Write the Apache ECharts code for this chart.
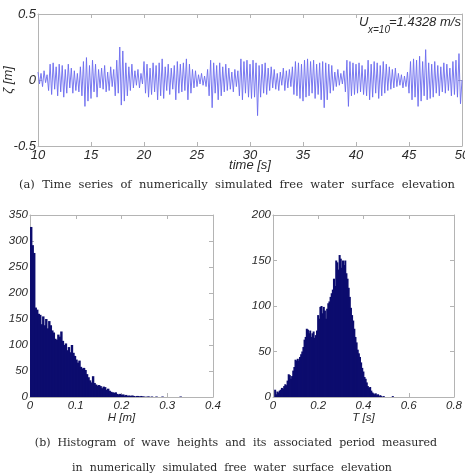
<!DOCTYPE html>
<html>
<head>
<meta charset="utf-8">
<script src="https://cdn.jsdelivr.net/npm/echarts@6/dist/echarts.min.js"></script>
<style>html,body{margin:0;padding:0;background:#fff;}#c{width:465px;height:474px;}</style>
</head>
<body>
<div id="c"></div>
<script>
// ---- Time series of free surface elevation (7 samples per second) ----
const TIME_START = 10;
const TIME_STEP = 1 / 7;
const ETA = [
  0.06,-0.03,0.05,-0.05,0.07,-0.02,0.04,
  -0.08,0.12,-0.11,0.13,-0.07,0.10,-0.12,
  0.12,-0.09,0.11,-0.13,0.08,-0.10,0.12,
  -0.06,0.09,-0.10,0.07,-0.08,0.05,-0.09,
  0.10,-0.12,0.14,-0.20,0.17,-0.16,0.11,
  -0.14,0.15,-0.09,0.12,-0.13,0.08,-0.06,
  0.09,-0.07,0.11,-0.09,0.06,-0.08,0.10,
  -0.05,0.08,-0.12,0.15,-0.10,0.25,-0.19,
  0.22,-0.16,0.13,-0.12,0.10,-0.08,0.12,
  -0.06,0.07,-0.04,0.08,-0.06,0.05,-0.03,
  0.14,-0.10,0.12,-0.13,0.09,-0.11,0.13,
  -0.09,0.11,-0.15,0.13,-0.12,0.16,-0.14,
  0.10,-0.08,0.12,-0.11,0.09,-0.07,0.11,
  -0.15,0.14,-0.10,0.12,-0.09,0.13,-0.08,
  0.16,-0.15,0.12,-0.10,0.08,-0.06,0.07,
  -0.05,0.04,-0.03,0.05,-0.04,0.03,-0.05,
  0.08,-0.12,0.15,-0.21,0.13,-0.10,0.11,
  -0.15,0.13,-0.12,0.10,-0.09,0.12,-0.08,
  0.09,-0.07,0.06,-0.09,0.08,-0.05,0.07,
  -0.12,0.16,-0.15,0.14,-0.10,0.15,-0.13,
  0.12,-0.14,0.15,-0.13,0.13,-0.27,0.11,
  -0.13,0.12,-0.10,0.13,-0.11,0.09,-0.08,
  0.10,-0.06,0.08,-0.07,0.05,-0.08,0.06,
  -0.04,0.09,-0.08,0.07,-0.06,0.08,-0.05,
  0.10,-0.11,0.14,-0.12,0.13,-0.14,0.12,
  -0.16,0.15,-0.13,0.16,-0.12,0.14,-0.10,
  0.15,-0.14,0.12,-0.11,0.13,-0.15,0.14,
  -0.21,0.13,-0.15,0.12,-0.10,0.11,-0.08,
  0.06,-0.05,0.08,-0.04,0.05,-0.03,0.07,
  -0.09,0.15,-0.20,0.14,-0.12,0.13,-0.11,
  0.12,-0.10,0.13,-0.09,0.11,-0.11,0.08,
  -0.12,0.15,-0.15,0.12,-0.13,0.14,-0.10,
  0.13,-0.14,0.11,-0.12,0.14,-0.10,0.12,
  -0.08,0.10,-0.07,0.08,-0.06,0.09,-0.05,
  0.05,-0.04,0.04,-0.06,0.03,-0.05,0.06,
  -0.10,0.14,-0.15,0.16,-0.13,0.15,-0.20,
  0.18,-0.16,0.14,-0.12,0.23,-0.15,0.13,
  -0.14,0.12,-0.13,0.14,-0.10,0.11,-0.12,
  0.10,-0.09,0.13,-0.10,0.12,-0.08,0.09,
  -0.12,0.14,-0.11,0.15,-0.13,0.20,-0.18,
  0.00
];

// ---- Histogram of wave heights H [m] ----
const H_BIN_START = 0;
const H_BIN_WIDTH = 0.0033;
const H_COUNTS = [
  327,292,277,172,168,160,158,140,155,138,
  150,132,146,138,128,124,112,110,120,116,
  126,108,100,103,90,96,86,100,85,79,
  72,66,70,58,55,56,52,44,38,32,
  28,40,27,24,22,23,21,17,20,19,
  14,16,12,10,9,8,9,6,5,6,
  4,5,3,4,2,3,2,3,2,1,
  2,2,1,2,1,1,0,1,1,0,
  1,0,0,1,0,0,0,1,0,0,
  0,0,0,0,0,0,0,0,0,1
];

// ---- Histogram of wave periods T [s] ----
const T_BIN_START = 0.005;
const T_BIN_WIDTH = 0.005;
const T_COUNTS = [
  8,3,6,5,7,8,10,9,12,14,
  13,18,25,24,20,23,29,33,41,40,
  42,40,44,47,50,55,63,66,75,74,
  70,73,66,70,72,65,68,73,90,86,
  99,100,92,99,95,86,97,103,105,110,
  114,118,130,122,150,148,140,156,152,142,
  150,145,150,136,130,120,110,98,90,84,
  75,66,60,52,48,44,38,32,28,22,
  20,16,12,10,11,7,5,4,3,4,
  2,3,1,2,1,0,1,0,0,0,
  0,0,0,0,1,0
];

// ---- tick settings ----
const TOP_X_TICKS = { min: 10, max: 50, interval: 5 };
const TOP_Y_TICKS = { min: -0.5, max: 0.5, interval: 0.5 };
const H_X_TICKS = { min: 0, max: 0.4, interval: 0.1 };
const H_Y_TICKS = { min: 0, max: 350, interval: 50 };
const T_X_TICKS = { min: 0, max: 0.8, interval: 0.2 };
const T_Y_TICKS = { min: 0, max: 200, interval: 50 };

const NAVY = '#0c0c6e';
const LINE = '#6b6bee';
const BOX = '#b4b4b4';
const TXT = '#2a2a2a';
const SANS = '"Liberation Sans", Arial, sans-serif';
const SERIF = '"DejaVu Serif", "Liberation Serif", serif';

const chart = echarts.init(document.getElementById('c'), null, { renderer: 'canvas' });

function mainX(grid, t, fs, name, nameGap) {
  return {
    type: 'value', gridIndex: grid, min: t.min, max: t.max, interval: t.interval,
    position: 'bottom',
    axisLine: { show: true, onZero: false, lineStyle: { color: BOX, width: 1 } },
    axisTick: { show: true, inside: true, length: 4, lineStyle: { color: BOX } },
    splitLine: { show: false },
    axisLabel: { color: TXT, fontStyle: 'italic', fontFamily: SANS, fontSize: fs, margin: 3,
      formatter: v => String(+v.toFixed(2)) },
    name: name, nameLocation: 'middle', nameGap: nameGap, nameMoveOverlap: false,
    nameTextStyle: { color: TXT, fontStyle: 'italic', fontFamily: SANS, fontSize: fs,
      verticalAlign: 'middle' }
  };
}
function mirrorX(grid, t) {
  return {
    type: 'value', gridIndex: grid, min: t.min, max: t.max, interval: t.interval,
    position: 'top',
    axisLine: { show: true, onZero: false, lineStyle: { color: BOX, width: 1 } },
    axisTick: { show: true, inside: true, length: 4, lineStyle: { color: BOX } },
    splitLine: { show: false }, axisLabel: { show: false }
  };
}
function mainY(grid, t, fs, name, nameGap) {
  return {
    type: 'value', gridIndex: grid, min: t.min, max: t.max, interval: t.interval,
    position: 'left',
    axisLine: { show: true, onZero: false, lineStyle: { color: BOX, width: 1 } },
    axisTick: { show: true, inside: true, length: 4, lineStyle: { color: BOX } },
    splitLine: { show: false },
    axisLabel: { color: TXT, fontStyle: 'italic', fontFamily: SANS, fontSize: fs, margin: 2,
      formatter: v => String(+v.toFixed(2)) },
    name: name, nameLocation: 'middle', nameGap: nameGap, nameMoveOverlap: false,
    nameTextStyle: { color: TXT, fontStyle: 'italic', fontFamily: SANS, fontSize: fs,
      verticalAlign: 'middle' }
  };
}
function mirrorY(grid, t) {
  return {
    type: 'value', gridIndex: grid, min: t.min, max: t.max, interval: t.interval,
    position: 'right',
    axisLine: { show: true, onZero: false, lineStyle: { color: BOX, width: 1 } },
    axisTick: { show: true, inside: true, length: 4, lineStyle: { color: BOX } },
    splitLine: { show: false }, axisLabel: { show: false }
  };
}

const tsData = ETA.map((v, i) => [TIME_START + i * TIME_STEP, v]);
const hData = H_COUNTS.map((c, i) => [H_BIN_START + i * H_BIN_WIDTH, H_BIN_START + (i + 1) * H_BIN_WIDTH, c]);
const tData = T_COUNTS.map((c, i) => [T_BIN_START + i * T_BIN_WIDTH, T_BIN_START + (i + 1) * T_BIN_WIDTH, c]);

function histItem(params, api) {
  const x0 = api.value(0), x1 = api.value(1), y = api.value(2);
  if (!y) return null;
  const p0 = api.coord([x0, y]);
  const p1 = api.coord([x1, 0]);
  return {
    type: 'rect',
    shape: { x: p0[0], y: p0[1], width: p1[0] - p0[0] + 0.9, height: p1[1] - p0[1] },
    style: { fill: NAVY }
  };
}

const gridBase = { containLabel: false, outerBoundsMode: 'none' };

const option = {
  animation: false,
  backgroundColor: '#ffffff',
  grid: [
    Object.assign({ left: 38, top: 14, width: 424, height: 132 }, gridBase),
    Object.assign({ left: 30, top: 215, width: 183, height: 182 }, gridBase),
    Object.assign({ left: 273, top: 215, width: 181, height: 182 }, gridBase)
  ],
  xAxis: [
    mainX(0, TOP_X_TICKS, 13, 'time [s]', 19),
    mirrorX(0, TOP_X_TICKS),
    mainX(1, H_X_TICKS, 11.5, 'H [m]', 21),
    mirrorX(1, H_X_TICKS),
    mainX(2, T_X_TICKS, 11.5, 'T [s]', 21),
    mirrorX(2, T_X_TICKS)
  ],
  yAxis: [
    mainY(0, TOP_Y_TICKS, 13, 'ζ [m]', 30),
    mirrorY(0, TOP_Y_TICKS),
    mainY(1, H_Y_TICKS, 11.5, '', 0),
    mirrorY(1, H_Y_TICKS),
    mainY(2, T_Y_TICKS, 11.5, '', 0),
    mirrorY(2, T_Y_TICKS)
  ],
  series: [
    {
      type: 'line', xAxisIndex: 0, yAxisIndex: 0, data: tsData,
      showSymbol: false, symbol: 'none', smooth: false,
      lineStyle: { color: LINE, width: 0.9 }
    },
    {
      type: 'custom', xAxisIndex: 2, yAxisIndex: 2, data: hData,
      renderItem: histItem, encode: { x: [0, 1], y: 2 }
    },
    {
      type: 'custom', xAxisIndex: 4, yAxisIndex: 4, data: tData,
      renderItem: histItem, encode: { x: [0, 1], y: 2 }
    }
  ],
  graphic: [
    { type: 'text', left: 359, top: 16, style: { text: 'U', font: 'italic 13px ' + SANS, fill: TXT } },
    { type: 'text', left: 368, top: 25, style: { text: 'x=10', font: 'italic 10px ' + SANS, fill: TXT } },
    { type: 'text', left: 389, top: 16, style: { text: '=1.4328 m/s', font: 'italic 13px ' + SANS, fill: TXT } },
    { type: 'text', x: 237, y: 185, style: { text: '(a)  Time  series  of  numerically  simulated  free  water  surface  elevation',
        font: '11.5px ' + SERIF, fill: TXT, align: 'center', verticalAlign: 'middle' } },
    { type: 'text', x: 236, y: 443, style: { text: '(b)  Histogram  of  wave  heights  and  its  associated  period  measured',
        font: '11px ' + SERIF, fill: TXT, align: 'center', verticalAlign: 'middle' } },
    { type: 'text', x: 232, y: 468, style: { text: 'in  numerically  simulated  free  water  surface  elevation',
        font: '11px ' + SERIF, fill: TXT, align: 'center', verticalAlign: 'middle' } }
  ]
};
chart.setOption(option);
</script>
</body>
</html>
